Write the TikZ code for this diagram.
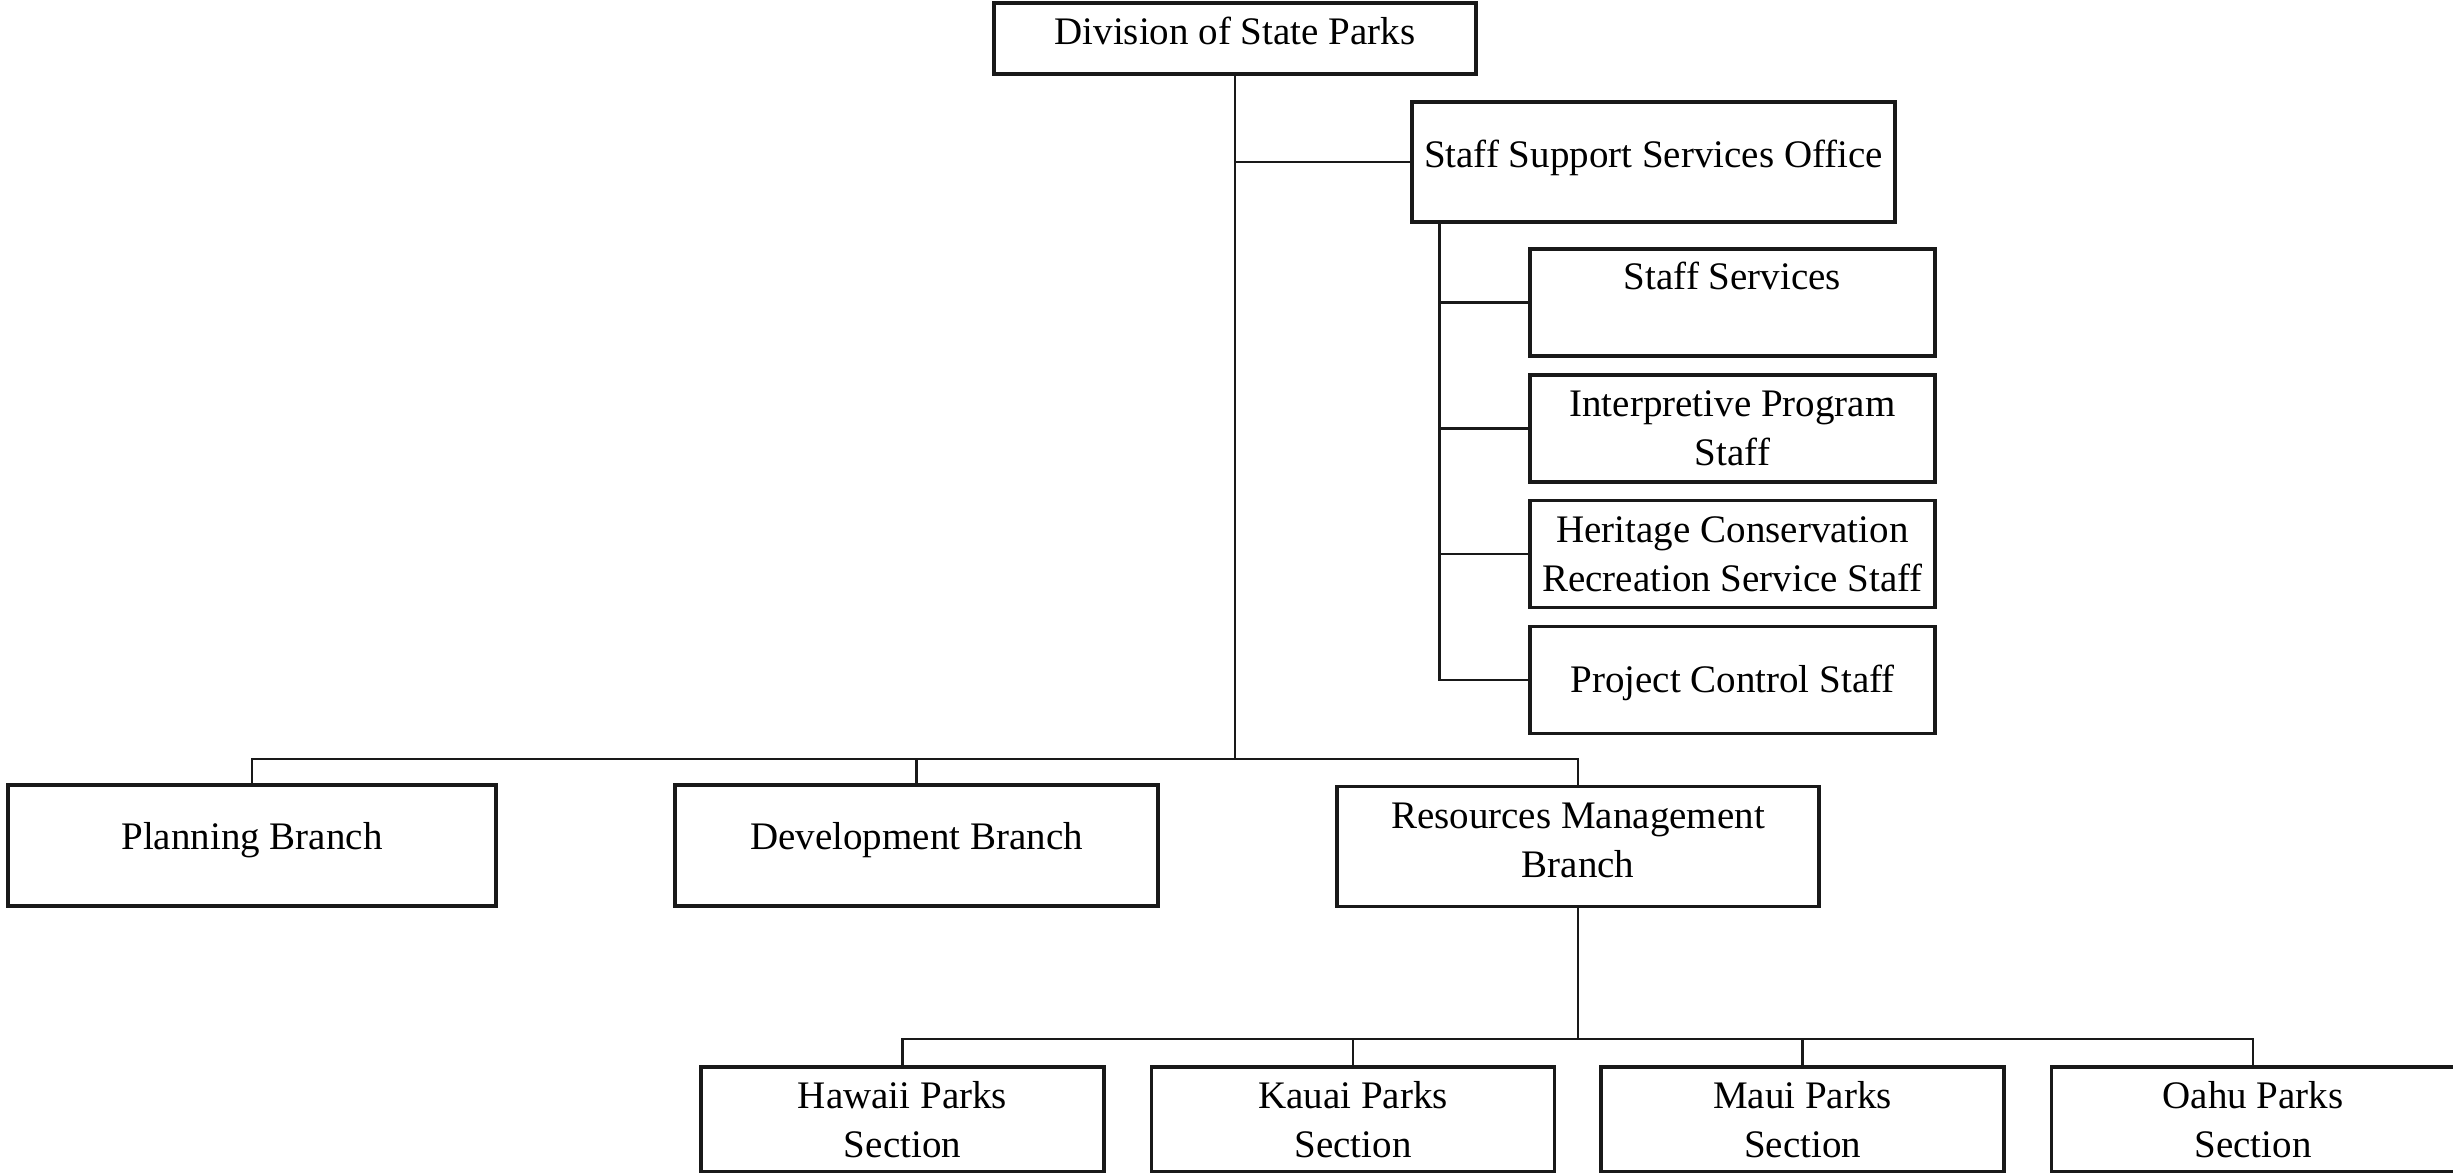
\documentclass[tikz,border=0pt]{standalone}
\usepackage{fontspec}
\setmainfont{Liberation Serif}
\begin{document}
\begin{tikzpicture}[
  box/.style={draw=black!90, line width=0.9pt, inner sep=0pt, align=center,
    font=\fontsize{11.1pt}{14pt}\selectfont},
  oneline/.style={text height=0.27cm, text depth=#1},
  conn/.style={draw=black!90, line width=0.75pt}
]
\useasboundingbox[fill=white] (0,0) rectangle (24.53,-11.73);

% top
\node[box, oneline=0.14cm, minimum width=4.82cm, minimum height=0.71cm] (division) at (12.35,-0.385) {Division of State Parks};
\node[box, oneline=0.15cm, minimum width=4.83cm, minimum height=1.20cm] (sso) at (16.535,-1.62) {Staff Support Services Office};

% staff boxes
\node[box, oneline=0.52cm, minimum width=4.05cm, minimum height=1.07cm] (staffserv) at (17.325,-3.025) {Staff Services};
\node[box, minimum width=4.05cm, minimum height=1.07cm] (interp) at (17.325,-4.285) {Interpretive Program\\Staff};
\node[box, minimum width=4.05cm, minimum height=1.07cm] (heritage) at (17.325,-5.54) {Heritage Conservation\\Recreation Service Staff};
\node[box, oneline=0.01cm, minimum width=4.05cm, minimum height=1.07cm] (project) at (17.325,-6.80) {Project Control Staff};

% branches
\node[box, oneline=0.18cm, minimum width=4.88cm, minimum height=1.21cm] (planning) at (2.52,-8.455) {Planning Branch};
\node[box, oneline=0.18cm, minimum width=4.83cm, minimum height=1.21cm] (development) at (9.165,-8.455) {Development Branch};
\node[box, minimum width=4.82cm, minimum height=1.20cm] (resources) at (15.78,-8.465) {Resources Management\\Branch\rule[-0.12cm]{0pt}{0pt}};

% sections
\node[box, minimum width=4.03cm, minimum height=1.05cm] (hawaii) at (9.025,-11.195) {Hawaii Parks\\Section};
\node[box, minimum width=4.03cm, minimum height=1.05cm] (kauai) at (13.53,-11.195) {Kauai Parks\\Section};
\node[box, minimum width=4.03cm, minimum height=1.05cm] (maui) at (18.025,-11.195) {Maui Parks\\Section};
\node[box, minimum width=4.03cm, minimum height=1.05cm] (oahu) at (22.53,-11.195) {Oahu Parks\\Section};

% helper coordinates
\coordinate (bus1) at (0,-7.59);
\coordinate (bus2) at (0,-10.39);
\coordinate (subtop) at ([xshift=0.29cm]sso.south west);

% connectors
\draw[conn] (division.south) -- (division.south |- bus1);
\draw[conn] (division.south |- sso.west) -- (sso.west);
\draw[conn] (subtop) -- (subtop |- project.west) -- (project.west);
\draw[conn] (subtop |- staffserv.west) -- (staffserv.west);
\draw[conn] (subtop |- interp.west) -- (interp.west);
\draw[conn] (subtop |- heritage.west) -- (heritage.west);

\draw[conn] (planning.north) -- (planning.north |- bus1) -- (resources.north |- bus1) -- (resources.north);
\draw[conn] (development.north) -- (development.north |- bus1);

\draw[conn] (resources.south) -- (resources.south |- bus2);
\draw[conn] (hawaii.north) -- (hawaii.north |- bus2) -- (oahu.north |- bus2) -- (oahu.north);
\draw[conn] (kauai.north) -- (kauai.north |- bus2);
\draw[conn] (maui.north) -- (maui.north |- bus2);
\end{tikzpicture}
\end{document}
